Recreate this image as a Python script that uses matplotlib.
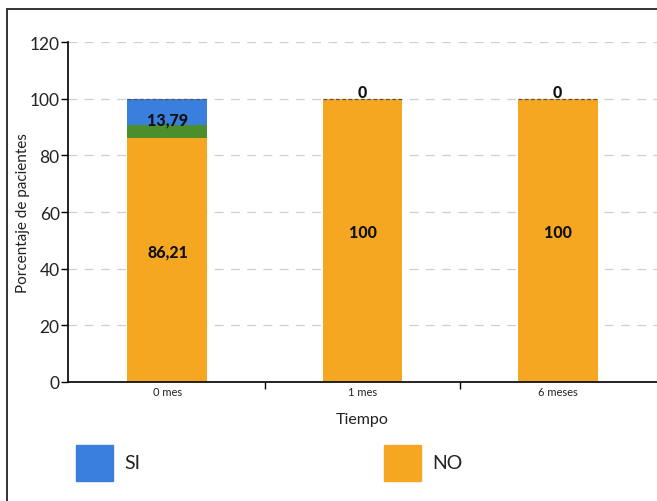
"""
Porcentaje de pacientes por tiempo de seguimiento (SI / NO), barras apiladas
"""
import numpy as np
import matplotlib.pyplot as plt
from matplotlib.patches import Rectangle

plt.rcParams['font.family'] = ['Lato', 'DejaVu Sans']

tiempos = ["0 mes", "1 mes", "6 meses"]
no_vals = [86.21, 100, 100]
si_verde = [4.6, 0, 0]      # franja verde inferior del segmento SI
si_azul = [9.19, 0, 0]
si_total = [13.79, 0, 0]
yticks = [0, 20, 40, 60, 80, 100, 120]

c_no = "#f6a722"
c_si = "#3a7ede"
c_verde = "#4d8e2c"

fig = plt.figure(figsize=(6.57, 5.02), dpi=100)
ax = fig.add_axes([68 / 657, 1 - 383 / 502, 1 - 68 / 657, 340 / 502])

x = np.arange(len(tiempos))
w = 0.41
no_vals = np.array(no_vals)
si_verde = np.array(si_verde)
si_azul = np.array(si_azul)

ax.bar(x, no_vals, w, color=c_no, zorder=2)
ax.bar(x, si_verde, w, bottom=no_vals, color=c_verde, zorder=2)
ax.bar(x, si_azul, w, bottom=no_vals + si_verde, color=c_si, zorder=2)

# borde discontinuo en la cima de las barras
for xi, top in zip(x, no_vals + si_verde + si_azul):
    ax.hlines(top, xi - w / 2, xi + w / 2, colors="#555555", linestyles=(0, (3, 2)),
              lw=0.9, zorder=3)

# etiquetas de valores
lab = dict(ha="center", va="center", fontsize=11.5, fontweight="black",
           color="#111111", zorder=4)
for xi, n, s in zip(x, no_vals, si_total):
    ax.text(xi, n / 2 + 3, f"{n:g}".replace(".", ","), **lab)
    if s > 0:
        ax.text(xi, n + s / 2 - 0.6, f"{s:g}".replace(".", ","), **lab)
    else:
        ax.text(xi, n + 2.2, "0", **lab)

ax.set_xlim(-0.51, len(tiempos) - 0.49)
ax.set_ylim(0, 120)
ax.set_yticks(yticks)
ax.set_yticklabels([str(v) for v in yticks], fontsize=12.5, color="#222222")
for v in yticks[1:]:
    ax.axhline(v, color="#cfcfcf", lw=0.9, ls=(0, (7, 6)), zorder=1)

ax.set_xticks(x)
ax.set_xticklabels(tiempos, fontsize=8, color="#222222")
ax.set_xticks(x[:-1] + 0.5, minor=True)
ax.tick_params(axis="x", which="major", length=0, pad=3)
ax.tick_params(axis="x", which="minor", length=5, width=1, direction="out")
ax.tick_params(axis="y", length=5, width=1, pad=1)

for side in ["top", "right"]:
    ax.spines[side].set_visible(False)
for side in ["left", "bottom"]:
    ax.spines[side].set_linewidth(1.3)
    ax.spines[side].set_color("#111111")

ax.set_xlabel("Tiempo", fontsize=11.5, labelpad=11, color="#222222")
ax.set_ylabel("Porcentaje de pacientes", fontsize=11, labelpad=0, color="#222222")

# leyenda
fig.patches.append(Rectangle((76 / 657, 1 - 482 / 502), 37 / 657, 36 / 502,
                             transform=fig.transFigure, color=c_si))
fig.text(124 / 657, 1 - 464 / 502, "SI", fontsize=14, va="center", color="#222222")
fig.patches.append(Rectangle((384 / 657, 1 - 482 / 502), 37 / 657, 36 / 502,
                             transform=fig.transFigure, color=c_no))
fig.text(432 / 657, 1 - 464 / 502, "NO", fontsize=14, va="center", color="#222222")

# marco
fig.patches.append(Rectangle((7 / 657, -0.1), 1.2, 1.1 - 10 / 502, transform=fig.transFigure,
                             fill=False, edgecolor="#333333", lw=1.4))

fig.savefig("out.png", dpi=100)
